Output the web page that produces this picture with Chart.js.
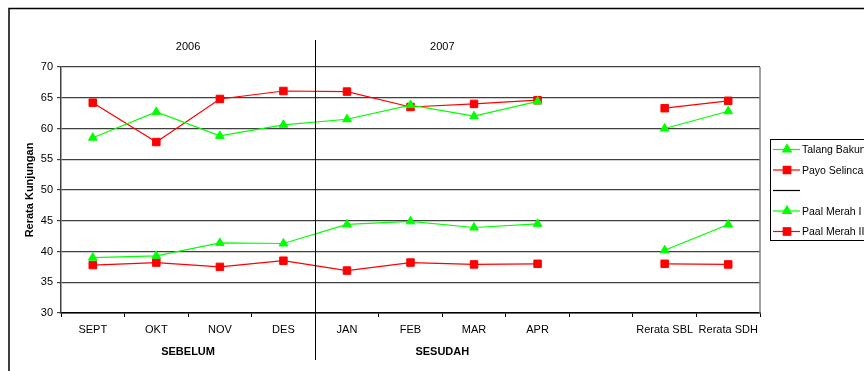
<!DOCTYPE html>
<html>
<head>
<meta charset="utf-8">
<title>Rerata Kunjungan</title>
<script src="https://cdn.jsdelivr.net/npm/chart.js@4.4.0/dist/chart.umd.min.js"></script>
<style>
    html, body { margin: 0; padding: 0; background: #fff; overflow: hidden; }
    #wrap { width: 864px; height: 371px; position: relative; }
</style>
</head>
<body>
<div id="wrap"><canvas id="kunjunganChart" width="864" height="371"></canvas></div>
<script>
const bulan = ['SEPT', 'OKT', 'NOV', 'DES', 'JAN', 'FEB', 'MAR', 'APR', '', 'Rerata SBL', 'Rerata SDH'];
const talangBakung = [58.5, 62.7, 58.8, 60.6, 61.5, 63.8, 62.0, 64.4, null, 60.0, 62.8];
const payoSelincah = [64.2, 57.8, 64.8, 66.1, 66.0, 63.5, 64.0, 64.6, null, 63.3, 64.5];
const paalMerahI = [39.0, 39.3, 41.4, 41.3, 44.4, 44.9, 43.9, 44.5, null, 40.2, 44.4];
const paalMerahII = [37.8, 38.2, 37.5, 38.5, 36.9, 38.2, 37.9, 38.0, null, 38.0, 37.9];
const tahun = ['2006', '2007'];
const periode = ['SEBELUM', 'SESUDAH'];
const rentangKelompok = [[0, 3], [4, 7]];

document.addEventListener("DOMContentLoaded", function () {
    const FONT = "'Liberation Sans', Arial, sans-serif";
    const HIJAU = '#00ff00';
    const MERAH = '#ff0000';

    function seri(label, data, warna, bentuk, radius) {
        return {
            label: label,
            data: data,
            borderColor: warna,
            backgroundColor: warna,
            borderWidth: 1.2,
            pointStyle: bentuk,
            pointRadius: radius,
            pointHoverRadius: radius,
            pointBorderWidth: 1,
            spanGaps: false,
            tension: 0
        };
    }

    // frame, separator, year / period labels and the clipped legend
    const hiasan = {
        id: 'hiasan',
        afterDraw(chart) {
            const ctx = chart.ctx;
            const x = chart.scales.x;
            const area = chart.chartArea;
            ctx.save();

            // outer frame (top and left, rest runs off the picture)
            ctx.strokeStyle = '#000';
            ctx.lineWidth = 1.5;
            ctx.beginPath();
            ctx.moveTo(9, 380);
            ctx.lineTo(9, 8.5);
            ctx.lineTo(870, 8.5);
            ctx.stroke();

            // plot right border
            ctx.strokeStyle = '#808080';
            ctx.lineWidth = 1.5;
            ctx.beginPath();
            ctx.moveTo(area.right, area.top);
            ctx.lineTo(area.right, area.bottom);
            ctx.stroke();

            // separator between 2006 and 2007
            const xs = Math.round(x.getPixelForValue(3.5)) + 0.5;
            ctx.strokeStyle = '#000';
            ctx.lineWidth = 1;
            ctx.beginPath();
            ctx.moveTo(xs, 40);
            ctx.lineTo(xs, 360);
            ctx.stroke();

            ctx.fillStyle = '#000';
            ctx.textAlign = 'center';
            ctx.textBaseline = 'middle';
            rentangKelompok.forEach((r, i) => {
                const cx = (x.getPixelForValue(r[0]) + x.getPixelForValue(r[1])) / 2;
                ctx.font = '11px ' + FONT;
                ctx.fillText(tahun[i], cx, 47);
                ctx.font = 'bold 11px ' + FONT;
                ctx.fillText(periode[i], cx, 352);
            });

            // legend
            ctx.strokeStyle = '#000';
            ctx.lineWidth = 1;
            ctx.strokeRect(770.5, 139.5, 200, 101);
            const item = [
                { label: 'Talang Bakung', warna: HIJAU, bentuk: 'triangle' },
                { label: 'Payo Selincah', warna: MERAH, bentuk: 'rect' },
                { label: '', warna: '#000', bentuk: null },
                { label: 'Paal Merah I', warna: HIJAU, bentuk: 'triangle' },
                { label: 'Paal Merah II', warna: MERAH, bentuk: 'rect' }
            ];
            ctx.textAlign = 'left';
            ctx.font = '10.5px ' + FONT;
            item.forEach((it, i) => {
                const y = 149.5 + i * 20.5;
                ctx.strokeStyle = it.warna;
                ctx.lineWidth = 1.2;
                ctx.beginPath();
                ctx.moveTo(773, y);
                ctx.lineTo(800, y);
                ctx.stroke();
                if (it.bentuk) {
                    ctx.fillStyle = it.warna;
                    Chart.helpers.drawPoint(ctx, { pointStyle: it.bentuk, radius: it.bentuk === 'rect' ? 5.3 : 5, borderWidth: 1 }, 787, y);
                    ctx.fill();
                }
                ctx.fillStyle = '#000';
                ctx.fillText(it.label, 802, y + 1);
            });
            ctx.restore();
        }
    };

    const ctx = document.getElementById('kunjunganChart').getContext('2d');
    new Chart(ctx, {
        type: 'line',
        data: {
            labels: bulan,
            datasets: [
                seri('Talang Bakung', talangBakung, HIJAU, 'triangle', 5),
                seri('Payo Selincah', payoSelincah, MERAH, 'rect', 5.3),
                seri('Paal Merah I', paalMerahI, HIJAU, 'triangle', 5),
                seri('Paal Merah II', paalMerahII, MERAH, 'rect', 5.3)
            ]
        },
        options: {
            responsive: false,
            animation: false,
            layout: { padding: { left: 0, top: 67, right: 104, bottom: 0 } },
            scales: {
                x: {
                    type: 'category',
                    offset: true,
                    afterFit: s => { s.height = 58; },
                    grid: { offset: true, drawOnChartArea: false, drawTicks: true, tickLength: 4, color: '#000' },
                    border: { color: '#000', width: 1.5 },
                    ticks: {
                        autoSkip: false,
                        maxRotation: 0,
                        padding: 6,
                        color: '#000',
                        font: { family: FONT, size: 11 }
                    }
                },
                y: {
                    min: 30,
                    max: 70,
                    afterFit: s => { s.width = 61; },
                    grid: { color: '#404040', lineWidth: 1.2, tickLength: 4, drawTicks: true },
                    border: { color: '#404040', width: 1.5 },
                    ticks: {
                        stepSize: 5,
                        padding: 4,
                        color: '#000',
                        font: { family: FONT, size: 11 }
                    },
                    title: {
                        display: true,
                        text: 'Rerata Kunjungan',
                        color: '#000',
                        padding: { top: 23, bottom: 0 },
                        font: { family: FONT, size: 11, weight: 'bold' }
                    }
                }
            },
            plugins: {
                legend: { display: false },
                tooltip: { enabled: false }
            }
        },
        plugins: [hiasan]
    });
});
</script>
</body>
</html>
